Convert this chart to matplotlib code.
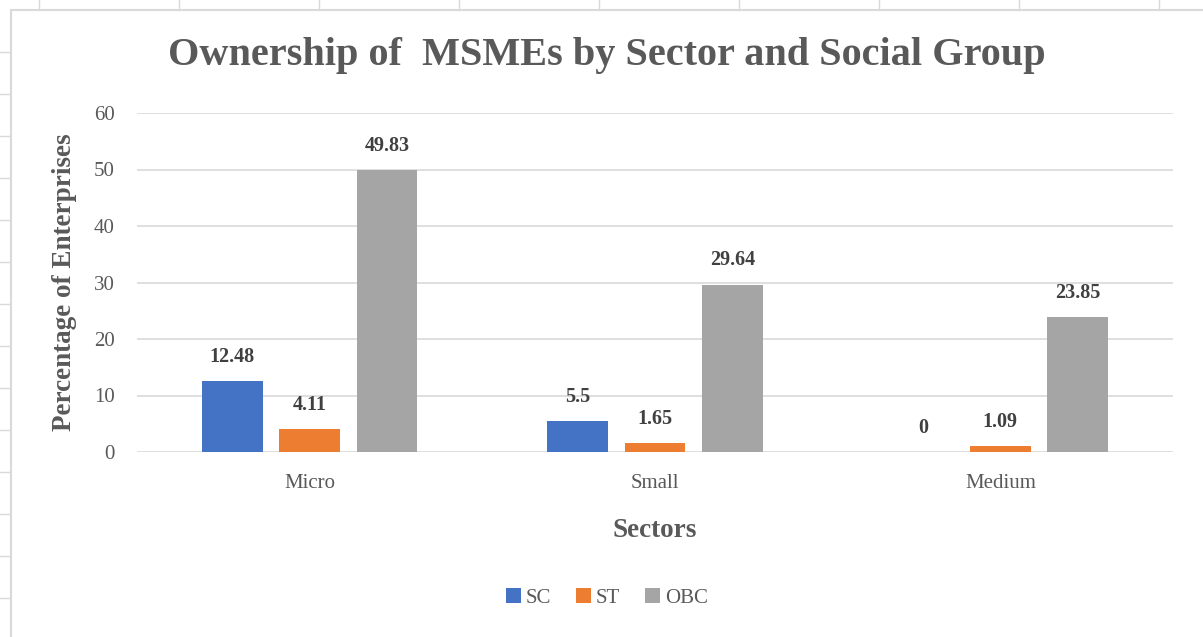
import matplotlib.pyplot as plt
from matplotlib.lines import Line2D
from matplotlib.patches import Rectangle
import numpy as np

sectors = ['Micro', 'Small', 'Medium']
groups = ['SC', 'ST', 'OBC']
sc = [12.48, 5.5, 0]
st = [4.11, 1.65, 1.09]
obc = [49.83, 29.64, 23.85]
colors = ['#4472C4', '#ED7D31', '#A5A5A5']

plt.rcParams['font.family'] = ['Liberation Serif', 'DejaVu Serif']

W, H = 1203, 637
fig = plt.figure(figsize=(W / 100, H / 100), dpi=100)


def px(x, y):
    # pixel coords (top-left origin) -> figure fraction
    return x / W, 1 - y / H


# excel sheet cell marks and chart frame
grey = '#D9D9D9'
for x in range(39, W, 140):
    fig.add_artist(Line2D([x / W, x / W], [1, 1 - 10 / H], color=grey, lw=1))
for y in range(52, H, 42):
    fig.add_artist(Line2D([0, 10 / W], [1 - y / H, 1 - y / H], color=grey, lw=1))
fig.add_artist(Rectangle(px(11, H + 5), (W + 5) / W, (H - 10 + 5) / H,
                         fill=False, edgecolor=grey, lw=1.5))

ax = fig.add_axes([137 / W, 185 / H, (1173 - 137) / W, (452 - 113) / H])

x = np.arange(len(sectors))
width = 0.176
step = 0.224
for i, (vals, name) in enumerate(zip([sc, st, obc], groups)):
    bars = ax.bar(x + (i - 1) * step, vals, width, color=colors[i], label=name)
    for b, v in zip(bars, vals):
        ax.text(b.get_x() + b.get_width() / 2, v + 2.5, f'{v:g}',
                ha='center', va='bottom', fontsize=14.5, fontweight='bold',
                color='#404040')

ax.set_xlim(-0.5, 2.5)
ax.set_ylim(0, 60)
ax.set_yticks(range(0, 61, 10))
ax.set_xticks(x)
ax.set_xticklabels(sectors)
ax.tick_params(axis='both', length=0, labelsize=15, labelcolor='#595959')
ax.tick_params(axis='x', pad=16)
ax.tick_params(axis='y', pad=16)
ax.yaxis.grid(True, color=grey, lw=1.2)
ax.set_axisbelow(True)
for s in ax.spines.values():
    s.set_visible(False)

ax.set_ylabel('Percentage of Enterprises', fontsize=19.5, fontweight='bold',
              color='#595959', labelpad=12)
ax.set_xlabel('Sectors', fontsize=19.5, fontweight='bold', color='#595959',
              labelpad=18)

fig.text(607 / W, 1 - 56 / H, 'Ownership of  MSMEs by Sector and Social Group',
         ha='center', va='center', fontsize=29, fontweight='bold',
         color='#595959')

leg = fig.legend(loc='center', bbox_to_anchor=px(607, 598), ncol=3,
                 frameon=False, fontsize=15, handlelength=0.7, handleheight=0.7,
                 handletextpad=0.25, columnspacing=1.2)
for t in leg.get_texts():
    t.set_color('#595959')

fig.savefig('out.png', dpi=100)
